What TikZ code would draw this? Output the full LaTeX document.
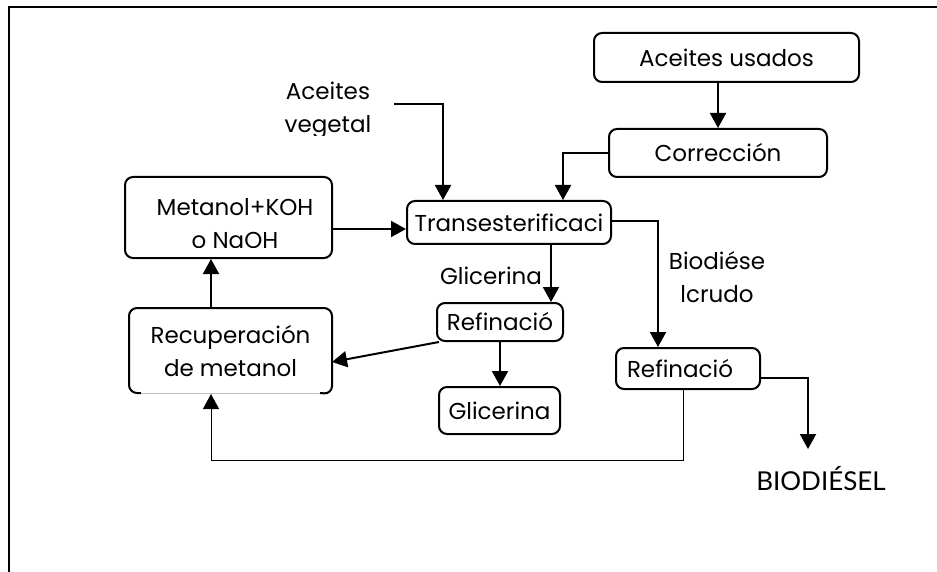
\documentclass[tikz,border=0pt]{standalone}
\usepackage{fontspec}
\usetikzlibrary{arrows.meta}
\newfontfamily\gothic{Poppins}
\newfontfamily\capsfont{Lato}
\newcommand{\flowfont}{\gothic\fontsize{23}{33}\selectfont}

\tikzset{
  box/.style={draw, line width=2pt, rounded corners=8pt, inner sep=0pt,
              font=\flowfont, align=center},
  lbl/.style={font=\flowfont, align=center, inner sep=0pt},
  arr/.style={line width=2pt, -{Triangle[length=15pt,width=16pt]}},
  thinarr/.style={line width=1pt, -{Triangle[length=15pt,width=16pt]}},
}

\begin{document}
\begin{tikzpicture}[x=1pt,y=-1pt]
\useasboundingbox (0,0) rectangle (937,572);

% page frame (top and left rules)
\draw[line width=1.8pt] (937,7) -- (9,7) -- (9,572);

% process boxes
\node[box, minimum width=265pt, minimum height=49pt] (usados) at (726.5,57.5) {Aceites usados};
\node[box, minimum width=218pt, minimum height=48pt] (corr) at (718,153) {Corrección};
\node[box, minimum width=204pt, minimum height=43pt] (trans) at (509,222.5) {Transesterificaci};
\node[box, minimum width=207pt, minimum height=81pt] (metanol) at (228.5,217.5) {};
\node[box, draw=none, minimum width=201pt, minimum height=84pt] (recup) at (230.5,351) {Recuperación\\de metanol};
\node[box, minimum width=126pt, minimum height=38pt] (ref1) at (500,322) {Refinació};
\node[box, minimum width=121pt, minimum height=47pt] (glic) at (499.5,410.5) {Glicerina};
\node[box, minimum width=144pt, minimum height=41pt, inner xsep=11pt,
      text width=122pt, align=left] (ref2) at (688,368.5) {Refinació};

% outline of the recovery box: black sides, faint lower edge
\draw[line width=2pt, rounded corners=8pt]
  (141,393) -| (recup.north west) -| (recup.south east) -- (320,393);
\draw[gray!50, line width=1pt] (141,393) -- (320,393);

% text of the methanol box, cut at its lower line
\begin{scope}
  \clip (110,170) rectangle (340,247);
  \node[lbl] (metanoltxt) at (235,224) {Metanol+KOH\\o NaOH};
\end{scope}

% vegetable oil input, cut below its baseline
\begin{scope}
  \clip (250,70) rectangle (400,136);
  \node[lbl] (veg) at (328,110) {Aceites\\vegetal};
\end{scope}
\coordinate (vegout) at (394,104);

% free labels
\node[lbl] (glicl) at (491,276) {Glicerina};
\node[lbl] (biocrudo) at (717,277.5) {Biodiése\\lcrudo};
\node[lbl, font=\capsfont\fontsize{26}{30}\selectfont] (bio) at (821,479) {BIODIÉSEL};
\coordinate (bioin) at (808,449);
\coordinate (loop) at (211,460);

% connectors
\draw[arr] (usados.south -| corr.north) -- (corr.north);
\draw[arr] (corr.west) -| ([xshift=54pt]trans.north);
\draw[arr] (vegout) -| ([xshift=-66pt]trans.north);
\draw[arr] ([yshift=-6.5pt]trans.west -| metanol.east) -- ([yshift=-6.5pt]trans.west);
\draw[arr] ([yshift=1.5pt]trans.east) -| ([xshift=-30pt]ref2.north);
\draw[arr] ([xshift=42pt]trans.south) -- ([xshift=51pt]ref1.north);
\draw[arr] (ref1.south) -- (ref1.south |- glic.north);
\draw[arr] ([xshift=3pt]ref1.south west) -- ([yshift=-11pt]recup.east);
\draw[arr] ([xshift=-19.5pt]recup.north) -- ([xshift=-19.5pt]recup.north |- metanol.south);
\draw[arr] ([yshift=-9.5pt]ref2.east) -| (bioin);
\draw[thinarr] ([xshift=-5pt]ref2.south) |- (loop) -- ([xshift=-19.5pt]recup.south);

\end{tikzpicture}
\end{document}
